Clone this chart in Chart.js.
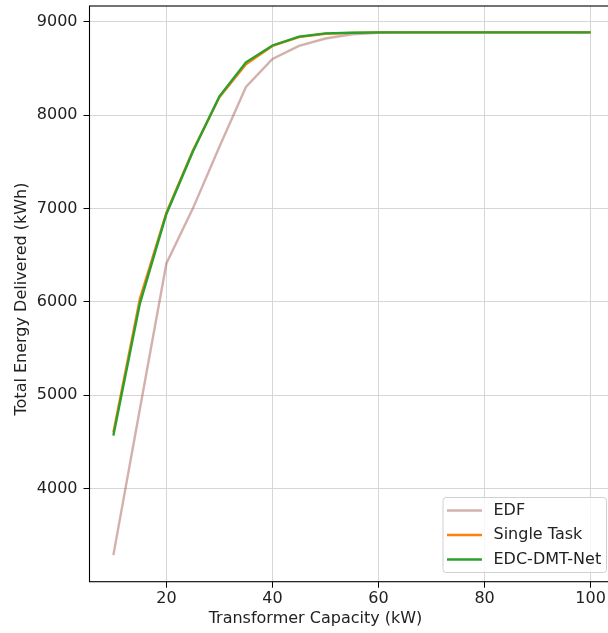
<!DOCTYPE html>
<html>
<head>
<meta charset="utf-8">
<script src="https://cdn.jsdelivr.net/npm/chart.js@4/dist/chart.umd.min.js"></script>
<style>
  html, body { margin: 0; padding: 0; background: #fff; overflow: hidden; }
  #wrap { position: absolute; left: 0; top: 0; width: 616px; height: 633px; }
</style>
</head>
<body>
<div id="wrap"><canvas id="energyChart" width="616" height="633"></canvas></div>
<script>
// Transformer capacity (kW)
var capacity = [10, 15, 20, 25, 30, 35, 40, 45, 50, 55, 60, 65, 70, 75, 80, 85, 90, 95, 100];

// Total energy delivered (kWh)
var edf = [3285, 4850, 6410, 7000, 7660, 8300, 8600, 8740, 8820, 8865, 8880, 8885, 8885, 8885, 8885, 8885, 8885, 8885, 8885];
var singleTask = [4600, 6030, 6955, 7620, 8190, 8545, 8740, 8835, 8870, 8880, 8885, 8885, 8885, 8885, 8885, 8885, 8885, 8885, 8885];
var edcDmtNet = [4565, 5980, 6940, 7610, 8200, 8565, 8745, 8840, 8875, 8882, 8885, 8885, 8885, 8885, 8885, 8885, 8885, 8885, 8885];

var xTicks = [20, 40, 60, 80, 100];
var yTicks = [4000, 5000, 6000, 7000, 8000, 9000];

var xTitle = "Transformer Capacity (kW)";
var yTitle = "Total Energy Delivered (kWh)";

var FONT = "'DejaVu Sans', sans-serif";
var TXT = "#222";

function points(ys) {
  return capacity.map(function (c, i) { return { x: c, y: ys[i] }; });
}

// axes frame, axis titles and the legend box inside the plot
var framePlugin = {
  id: "frameAndLegend",
  afterDraw: function (chart) {
    var ctx = chart.ctx;
    var a = chart.chartArea;
    ctx.save();
    ctx.strokeStyle = "#000";
    ctx.lineWidth = 1.1;
    ctx.strokeRect(a.left, a.top, a.right - a.left, a.bottom - a.top);

    ctx.font = "16px " + FONT;
    ctx.fillStyle = TXT;
    ctx.textAlign = "center";
    ctx.textBaseline = "middle";
    ctx.fillText(xTitle, 315.5, 619);
    ctx.save();
    ctx.translate(22, 299);
    ctx.rotate(-Math.PI / 2);
    ctx.fillText(yTitle, 0, 0);
    ctx.restore();

    // legend
    var bx = 443, by = 497.5, bw = 163.5, bh = 75;
    ctx.beginPath();
    ctx.roundRect(bx, by, bw, bh, 3);
    ctx.fillStyle = "rgba(255,255,255,0.8)";
    ctx.fill();
    ctx.strokeStyle = "#d0d0d0";
    ctx.lineWidth = 1;
    ctx.stroke();

    ctx.textAlign = "left";
    ctx.fillStyle = TXT;
    chart.data.datasets.forEach(function (ds, i) {
      var yy = 510.5 + i * 24.5;
      ctx.beginPath();
      ctx.moveTo(447, yy);
      ctx.lineTo(482, yy);
      ctx.strokeStyle = ds.borderColor;
      ctx.lineWidth = 2.4;
      ctx.stroke();
      ctx.fillText(ds.label, 493.5, yy);
    });
    ctx.restore();
  }
};

var data = {
  datasets: [
    {
      label: "EDF",
      data: points(edf),
      borderColor: "rgba(160, 80, 70, 0.45)",
      borderWidth: 2.4,
      pointRadius: 0,
      tension: 0,
      order: 3,
    },
    {
      label: "Single Task",
      data: points(singleTask),
      borderColor: "#ff7f0e",
      borderWidth: 2.4,
      pointRadius: 0,
      tension: 0,
      order: 2,
    },
    {
      label: "EDC-DMT-Net",
      data: points(edcDmtNet),
      borderColor: "#2ca02c",
      borderWidth: 2.4,
      pointRadius: 0,
      tension: 0,
      order: 1,
    },
  ],
};

var config = {
  type: "line",
  data: data,
  plugins: [framePlugin],
  options: {
    responsive: false,
    animation: false,
    devicePixelRatio: 1,
    layout: { padding: { left: 0, top: 6, right: 1.5, bottom: 0 } },
    plugins: {
      legend: { display: false },
      tooltip: { enabled: false },
    },
    scales: {
      x: {
        type: "linear",
        min: 5.5,
        max: 104.5,
        afterBuildTicks: function (scale) {
          scale.ticks = xTicks.map(function (v) { return { value: v }; });
        },
        afterFit: function (scale) {
          scale.height = 51.3;
          scale.paddingLeft = 0;
          scale.paddingRight = 0;
        },
        grid: { color: "#d6d6d6", lineWidth: 1, tickColor: "#000", tickLength: 6 },
        border: { display: false },
        ticks: {
          color: TXT,
          font: { family: FONT, size: 16 },
          padding: 2,
          maxRotation: 0,
          callback: function (v) { return String(v); },
        },
      },
      y: {
        type: "linear",
        min: 3000,
        max: 9168,
        afterBuildTicks: function (scale) {
          scale.ticks = yTicks.map(function (v) { return { value: v }; });
        },
        afterFit: function (scale) {
          scale.width = 89.5;
          scale.paddingTop = 0;
          scale.paddingBottom = 0;
        },
        grid: { color: "#d6d6d6", lineWidth: 1, tickColor: "#000", tickLength: 6 },
        border: { display: false },
        ticks: {
          color: TXT,
          font: { family: FONT, size: 16 },
          padding: 6,
          callback: function (v) { return String(v); },
        },
      },
    },
  },
};

new Chart(document.getElementById("energyChart").getContext("2d"), config);
</script>
</body>
</html>
